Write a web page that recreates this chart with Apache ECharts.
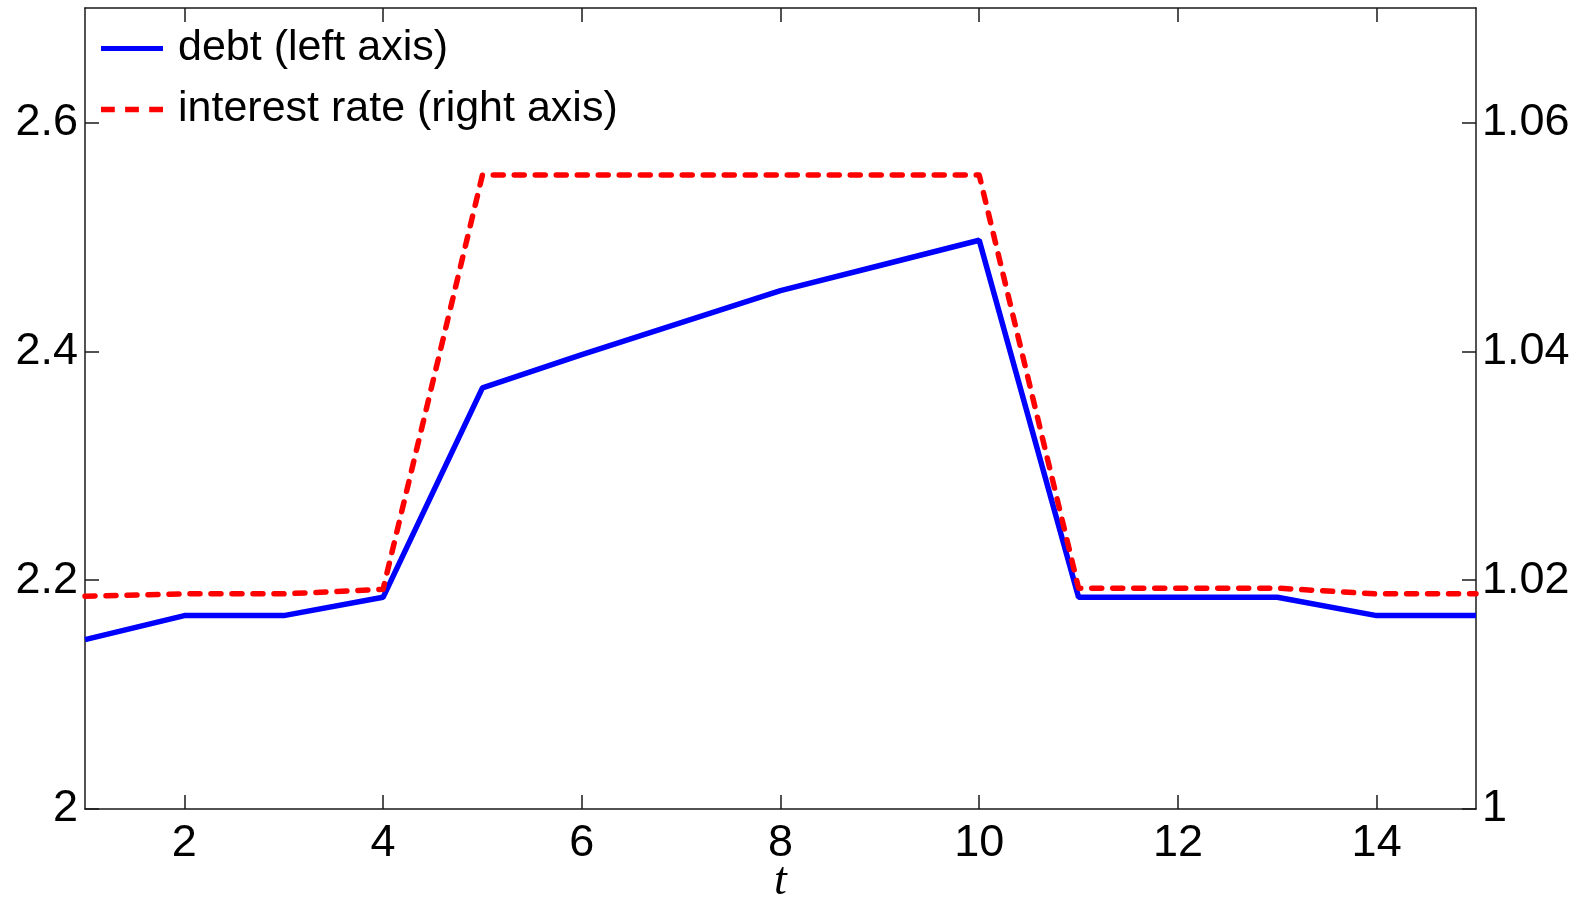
<!DOCTYPE html>
<html>
<head>
<meta charset="utf-8">
<title>debt and interest rate</title>
<script src="https://cdn.jsdelivr.net/npm/echarts@6/dist/echarts.min.js"></script>
<style>
  html, body { margin: 0; padding: 0; background: #fff; }
  #chart { width: 1587px; height: 900px; }
</style>
</head>
<body>
<div id="chart"></div>
<script>
// data
var periods = [1, 2, 3, 4, 5, 6, 7, 8, 9, 10, 11, 12, 13, 14, 15];
var debt = [2.148, 2.169, 2.169, 2.185, 2.368, 2.397, 2.425, 2.453, 2.475, 2.497, 2.185, 2.185, 2.185, 2.169, 2.169];
var interestRate = [1.0186, 1.0188, 1.0188, 1.0192, 1.0554, 1.0554, 1.0554, 1.0554, 1.0554, 1.0554, 1.0193, 1.0193, 1.0193, 1.0188, 1.0188];
var xTicks = [2, 4, 6, 8, 10, 12, 14];
var leftTicks = [2, 2.2, 2.4, 2.6];
var rightTicks = [1, 1.02, 1.04, 1.06];

var dom = document.getElementById('chart');
var myChart = echarts.init(dom);

var font = 'Liberation Sans, Arial, Helvetica, sans-serif';
var axisLineStyle = { color: '#1a1a1a', width: 1.5 };

function pairs(ys) {
    var out = [];
    for (var i = 0; i < periods.length; i++) {
        out.push([periods[i], ys[i]]);
    }
    return out;
}

var option = {
    animation: false,
    backgroundColor: '#fff',
    grid: { left: 85, right: 111, top: 8, bottom: 91, outerBoundsMode: 'none', containLabel: false },
    legend: {
        left: 96,
        top: 22,
        orient: 'vertical',
        itemWidth: 62,
        itemHeight: 14,
        itemGap: 18,
        textStyle: { fontFamily: font, fontSize: 43, color: '#000', padding: [0, 0, 0, 10] },
        data: [
            { name: 'debt (left axis)', icon: 'path://M0,4.5L62,4.5L62,9.5L0,9.5Z', itemStyle: { color: '#0000ff' } },
            { name: 'interest rate (right axis)', icon: 'path://M2,4.5L14,4.5L14,9.5L2,9.5ZM23,4.5L35,4.5L35,9.5L23,9.5ZM44,4.5L56,4.5L56,9.5L44,9.5Z', itemStyle: { color: '#ff0000' } }
        ]
    },
    xAxis: [
        {
            type: 'value',
            min: 1,
            max: 15,
            name: 't',
            nameLocation: 'middle',
            nameGap: 50,
            nameMoveOverlap: false,
            nameTextStyle: { fontFamily: 'Liberation Serif, DejaVu Serif, serif', fontStyle: 'italic', fontSize: 46, color: '#000' },
            axisLine: { lineStyle: axisLineStyle },
            axisTick: { inside: true, length: 14, customValues: xTicks, lineStyle: axisLineStyle },
            axisLabel: { customValues: xTicks, fontFamily: font, fontSize: 45, color: '#000', margin: 12 },
            splitLine: { show: false }
        },
        {
            type: 'value',
            position: 'top',
            min: 1,
            max: 15,
            axisLine: { lineStyle: axisLineStyle },
            axisTick: { inside: true, length: 14, customValues: xTicks, lineStyle: axisLineStyle },
            axisLabel: { show: false },
            splitLine: { show: false }
        }
    ],
    yAxis: [
        {
            type: 'value',
            position: 'left',
            min: 2,
            max: 2.7,
            axisLine: { show: true, lineStyle: axisLineStyle },
            axisTick: { show: true, inside: true, length: 14, customValues: leftTicks, lineStyle: axisLineStyle },
            axisLabel: {
                customValues: leftTicks,
                fontFamily: font, fontSize: 45, color: '#000', margin: 7,
                formatter: function (v) { return String(Math.round(v * 10) / 10); }
            },
            splitLine: { show: false }
        },
        {
            type: 'value',
            position: 'right',
            min: 1,
            max: 1.07,
            axisLine: { show: true, lineStyle: axisLineStyle },
            axisTick: { show: true, inside: true, length: 14, customValues: rightTicks, lineStyle: axisLineStyle },
            axisLabel: {
                customValues: rightTicks,
                fontFamily: font, fontSize: 45, color: '#000', margin: 6,
                formatter: function (v) { return String(Math.round(v * 100) / 100); }
            },
            splitLine: { show: false }
        }
    ],
    series: [
        {
            name: 'debt (left axis)',
            type: 'line',
            xAxisIndex: 0,
            yAxisIndex: 0,
            data: pairs(debt),
            showSymbol: false,
            symbol: 'none',
            color: '#0000ff',
            lineStyle: { color: '#0000ff', width: 5.5 }
        },
        {
            name: 'interest rate (right axis)',
            type: 'line',
            xAxisIndex: 0,
            yAxisIndex: 1,
            data: pairs(interestRate),
            showSymbol: false,
            symbol: 'none',
            color: '#ff0000',
            lineStyle: { color: '#ff0000', width: 5.5, type: [10, 11], cap: 'round', join: 'round' }
        }
    ]
};

myChart.setOption(option);

window.addEventListener('resize', function () {
    myChart.resize();
});
</script>
</body>
</html>
